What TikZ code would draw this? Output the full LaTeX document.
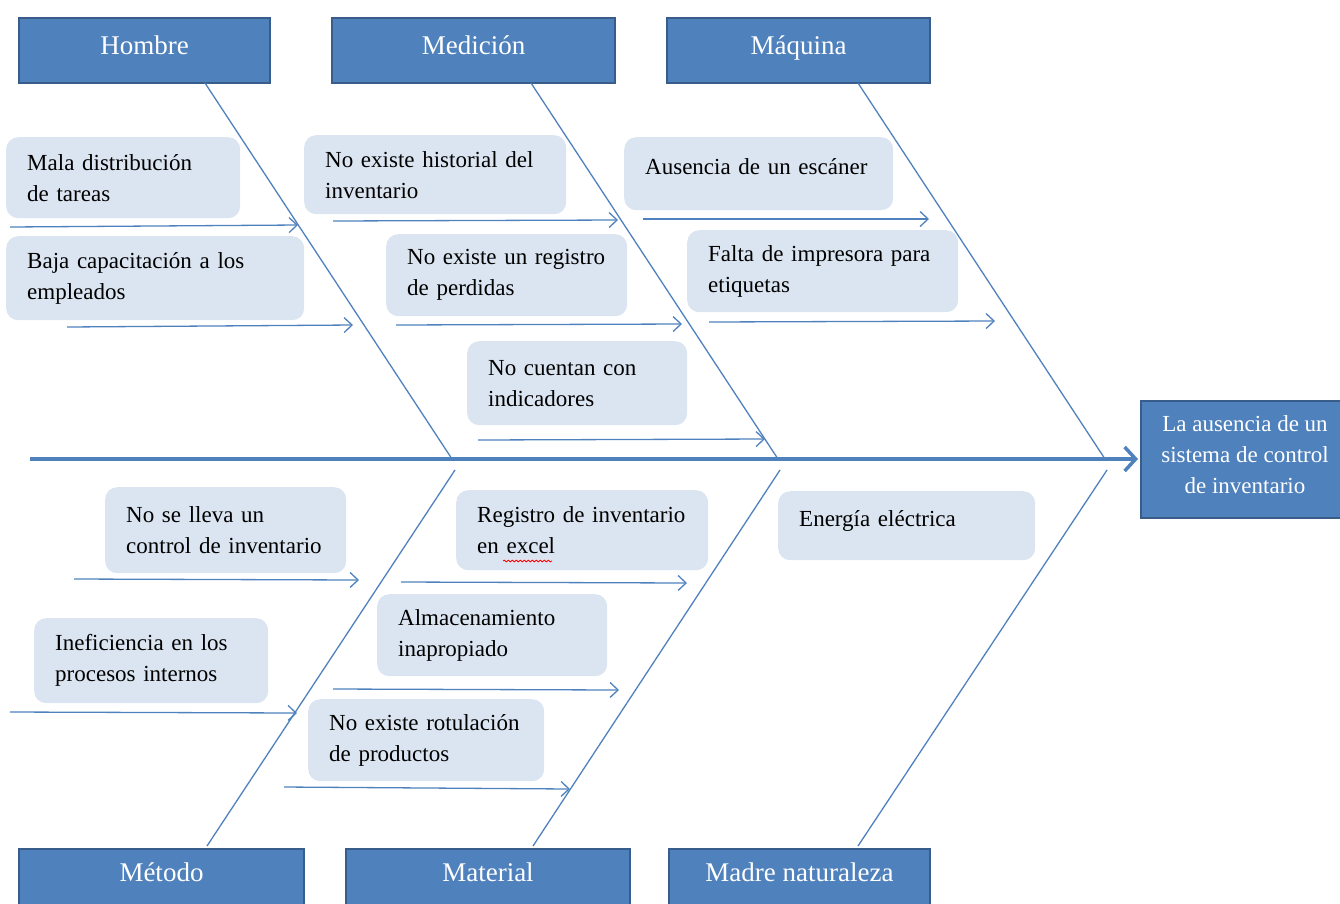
\documentclass[tikz,border=0pt]{standalone}
\usepackage{fontspec}
\setmainfont{Liberation Serif}
\usetikzlibrary{arrows.meta,decorations.pathmorphing}
\definecolor{hdrfill}{HTML}{4F81BD}
\definecolor{hdredge}{HTML}{385D8A}
\definecolor{causefill}{HTML}{DBE5F1}
\definecolor{bonecol}{HTML}{4F81BD}
\tikzset{
  header/.style={draw=hdredge, line width=2pt, fill=hdrfill, text=white,
    font=\fontsize{27}{32}\selectfont, inner sep=0pt, anchor=north west,
    minimum height=65pt},
  tophdr/.style={header, text height=19pt, text depth=12pt},
  bothdr/.style={header, text height=19pt, text depth=19pt},
  effect/.style={draw=hdredge, line width=2pt, fill=hdrfill, text=white,
    font=\fontsize{23}{31}\selectfont, inner sep=0pt, anchor=north west,
    align=center},
  cause/.style={fill=causefill, rounded corners=12pt, anchor=north west,
    align=left, inner xsep=21pt, inner ysep=0pt,
    font=\fontsize{23}{31}\selectfont},
  bone/.style={draw=bonecol, line width=1.3pt},
  causearrow/.style={draw=bonecol, line width=1.3pt,
    -{Straight Barb[length=8pt,width=15pt]}},
  spine/.style={draw=bonecol, line width=4pt,
    -{Straight Barb[length=11pt,width=24pt,line width=3.5pt]}},
  spell/.style={draw=red, line width=0.8pt,
    decorate, decoration={snake, amplitude=0.9pt, segment length=4pt}},
}
\begin{document}
\begin{tikzpicture}[x=1pt, y=-1pt]
\useasboundingbox (0,0) rectangle (1340,903);
\clip (0,0) rectangle (1340,903);

% category headers
\node[tophdr, minimum width=251pt] (hombre)   at (18,17)  {Hombre};
\node[tophdr, minimum width=283pt] (medicion) at (331,17) {Medición};
\node[tophdr, minimum width=263pt] (maquina)  at (666,17) {Máquina};
\node[bothdr, minimum width=285pt] (metodo)   at (18,848)  {Método};
\node[bothdr, minimum width=284pt] (material) at (345,848) {Material};
\node[bothdr, minimum width=261pt] (madre)    at (668,848) {Madre naturaleza};

% effect
\node[effect, minimum width=208pt, minimum height=117pt] (effect) at (1140,400)
  {La ausencia de un\\sistema de control\\de inventario\\[-21pt]\mbox{}};

% spine
\coordinate (tail) at (30,459);
\coordinate (head) at (1138,459);
\draw[spine] (tail) -- (head);

% bones
\coordinate (hA) at (205,83);  \coordinate (hB) at (452,459);
\coordinate (mA) at (531,83);  \coordinate (mB) at (778,459);
\coordinate (qA) at (858,83);  \coordinate (qB) at (1105,459);
\coordinate (tA) at (207,846); \coordinate (tB) at (455,470);
\coordinate (lA) at (533,846); \coordinate (lB) at (780,470);
\coordinate (nA) at (858,846); \coordinate (nB) at (1107,470);
\draw[bone] (hA) -- (hB);
\draw[bone] (mA) -- (mB);
\draw[bone] (qA) -- (qB);
\draw[bone] (tA) -- (tB);
\draw[bone] (lA) -- (lB);
\draw[bone] (nA) -- (nB);

% causes
\node[cause, minimum width=234pt, minimum height=81pt, text width=192pt] (c1) at (6,137)
  {Mala distribución\\de tareas};
\node[cause, minimum width=298pt, minimum height=84pt, text width=256pt] (c2) at (6,236)
  {Baja capacitación a los\\empleados};
\node[cause, minimum width=262pt, minimum height=79pt, text width=220pt] (c3) at (304,135)
  {No existe historial del\\inventario};
\node[cause, minimum width=241pt, minimum height=82pt, text width=199pt] (c4) at (386,234)
  {No existe un registro\\de perdidas};
\node[cause, minimum width=220pt, minimum height=84pt, text width=178pt] (c5) at (467,341)
  {No cuentan con\\indicadores};
\node[cause, minimum width=269pt, minimum height=73pt, text width=227pt] (c6) at (624,137)
  {Ausencia de un escáner\\[-16pt]\mbox{}};
\node[cause, minimum width=271pt, minimum height=82pt, text width=229pt] (c7) at (687,230)
  {Falta de impresora para\\etiquetas};
\node[cause, minimum width=241pt, minimum height=86pt, text width=199pt] (c8) at (105,487)
  {No se lleva un\\control de inventario};
\node[cause, minimum width=234pt, minimum height=85pt, text width=192pt] (c9) at (34,618)
  {Ineficiencia en los\\procesos internos};
\node[cause, minimum width=252pt, minimum height=80pt, text width=210pt] (c10) at (456,490)
  {Registro de inventario\\en excel};
\node[cause, minimum width=230pt, minimum height=82pt, text width=188pt] (c11) at (377,594)
  {Almacenamiento\\inapropiado};
\node[cause, minimum width=236pt, minimum height=82pt, text width=194pt] (c12) at (308,699)
  {No existe rotulación\\de productos};
\node[cause, minimum width=257pt, minimum height=69pt, text width=215pt] (c13) at (778,491)
  {Energía eléctrica\\[-16pt]\mbox{}};

% spell-check squiggle under "excel"
\coordinate (sq1) at (503,561);
\coordinate (sq2) at (552,561);
\draw[spell] (sq1) -- (sq2);

% cause arrows
\coordinate (a1) at (10,227);  \coordinate (b1) at (298,225);
\coordinate (a2) at (67,327);  \coordinate (b2) at (353,325);
\coordinate (a3) at (333,221); \coordinate (b3) at (618,220);
\coordinate (a4) at (396,325); \coordinate (b4) at (682,324);
\coordinate (a5) at (478,440); \coordinate (b5) at (765,439);
\coordinate (a6) at (643,219); \coordinate (b6) at (929,219);
\coordinate (a7) at (709,322); \coordinate (b7) at (995,321);
\coordinate (a8) at (74,579);  \coordinate (b8) at (359,580);
\coordinate (a9) at (10,712);  \coordinate (b9) at (297,713);
\coordinate (a10) at (401,582); \coordinate (b10) at (687,583);
\coordinate (a11) at (333,689); \coordinate (b11) at (619,690);
\coordinate (a12) at (284,787); \coordinate (b12) at (570,789);
\foreach \i in {1,...,12} {\draw[causearrow] (a\i) -- (b\i);}
\end{tikzpicture}
\end{document}
